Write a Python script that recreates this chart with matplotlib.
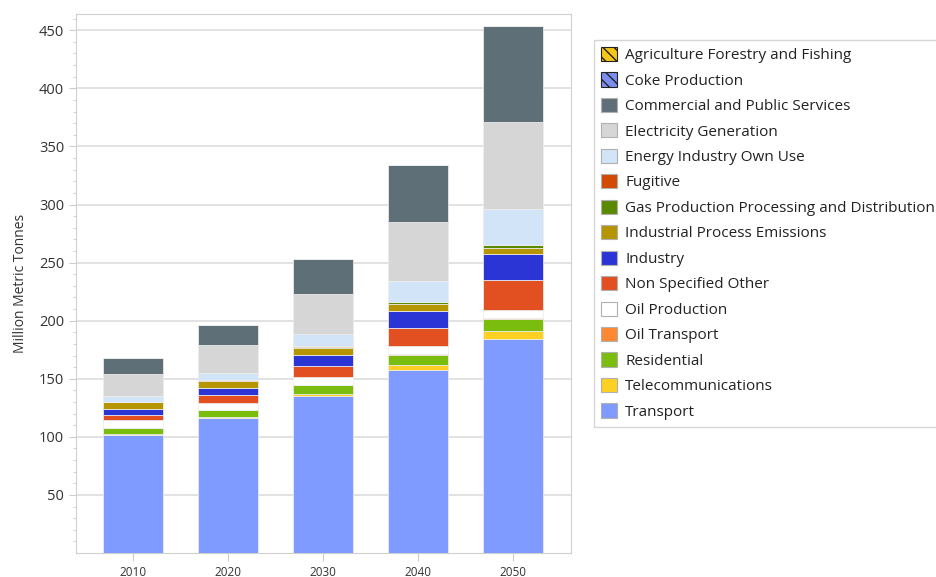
import numpy as np
import matplotlib
matplotlib.use("Agg")
import matplotlib.pyplot as plt
from matplotlib.patches import Patch

plt.rcParams['font.family'] = ['Open Sans', 'DejaVu Sans']
plt.rcParams['hatch.linewidth'] = 1.0

years = ["2010", "2020", "2030", "2040", "2050"]

# stacking order, bottom to top
transport = [101.5, 116.0, 135.2, 157.8, 184.3]
telecommunications = [1.0, 1.2, 2.0, 4.4, 6.5]
residential = [5.0, 6.0, 7.2, 8.6, 10.9]
oil_transport = [0.2, 0.2, 0.2, 0.2, 0.2]
oil_production = [6.5, 6.0, 7.2, 7.1, 6.9]
non_specified_other = [5.0, 7.0, 9.1, 15.8, 26.1]
industry = [4.5, 5.5, 9.5, 14.0, 22.3]
industrial_process = [6.0, 6.0, 5.7, 6.3, 5.0]
gas_production = [0.5, 0.4, 1.5, 1.5, 2.9]
fugitive = [0.2, 0.2, 0.2, 0.2, 0.2]
energy_own_use = [5.0, 6.5, 11.0, 18.5, 30.7]
electricity = [18.4, 23.8, 34.4, 50.4, 75.1]
commercial = [13.8, 17.8, 29.5, 49.0, 82.9]
coke_production = [0, 0, 0, 0, 0]
agriculture = [0, 0, 0, 0, 0]

series = [
    ("Transport", transport, "#7f9bff", None),
    ("Telecommunications", telecommunications, "#fdd023", None),
    ("Residential", residential, "#7bbd0e", None),
    ("Oil Transport", oil_transport, "#ff8833", None),
    ("Oil Production", oil_production, "#ffffff", None),
    ("Non Specified Other", non_specified_other, "#e25022", None),
    ("Industry", industry, "#2b35d5", None),
    ("Industrial Process Emissions", industrial_process, "#b59500", None),
    ("Gas Production Processing and Distribution", gas_production, "#5a8a00", None),
    ("Fugitive", fugitive, "#d24a04", None),
    ("Energy Industry Own Use", energy_own_use, "#d2e4f8", None),
    ("Electricity Generation", electricity, "#d6d6d6", None),
    ("Commercial and Public Services", commercial, "#5f6f78", None),
    ("Coke Production", coke_production, "#7b8ef0", "\\\\\\"),
    ("Agriculture Forestry and Fishing", agriculture, "#f5c518", "\\\\\\"),
]

fig = plt.figure(figsize=(9.37, 5.77), dpi=100)
ax = fig.add_axes([76 / 937, 24 / 577, 495 / 937, 539 / 577])

x = np.arange(len(years))
bottom = np.zeros(len(years))
for name, vals, color, hatch in series:
    vals = np.array(vals, dtype=float)
    ax.bar(x, vals, 0.63, bottom=bottom, color=color, hatch=hatch,
           edgecolor=(0.93, 0.93, 0.93, 0.8), linewidth=0.7, zorder=3)
    bottom += vals

ax.set_xlim(-0.6, 4.61)
ax.set_ylim(0, 464)
ax.set_xticks(x)
ax.set_xticklabels(years, fontsize=8.5, color="#333333")
ax.set_yticks(np.arange(50, 451, 50))
ax.set_yticks(np.arange(10, 461, 10), minor=True)
ax.tick_params(axis="y", labelsize=10.5, colors="#cccccc", labelcolor="#333333", length=5)
ax.tick_params(axis="y", which="minor", length=2.5, colors="#cccccc")
ax.tick_params(axis="x", length=6, colors="#cccccc", labelcolor="#333333", pad=3)
ax.grid(axis="y", color="#dddddd", linewidth=1.2, zorder=0)
for s in ax.spines.values():
    s.set_color("#d0d0d0")
ax.set_ylabel("Million Metric Tonnes", fontsize=10, color="#333333", labelpad=8)

handles = []
for name, vals, color, hatch in reversed(series):
    ec = "#222222" if hatch else "#b0b0b0"
    handles.append(Patch(facecolor=color, hatch=hatch, edgecolor=ec, linewidth=0.8, label=name))
leg = fig.legend(handles=handles, loc="upper left", bbox_to_anchor=(594 / 937, 1 - 40 / 577),
                 fontsize=11, frameon=True, fancybox=False, edgecolor="#cccccc",
                 handlelength=1.05, handleheight=1.05, handletextpad=0.55,
                 labelspacing=0.6, borderpad=0.45, borderaxespad=0)
leg.get_frame().set_linewidth(1.0)
for t in leg.get_texts():
    t.set_color("#222222")

fig.savefig("out.png", dpi=100)
